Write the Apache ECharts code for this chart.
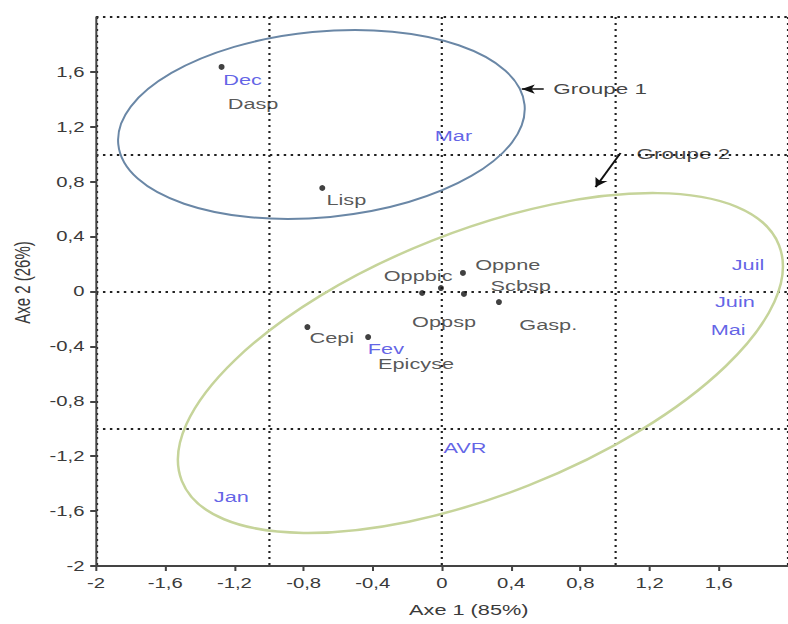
<!DOCTYPE html>
<html>
<head>
<meta charset="utf-8">
<script src="https://cdn.jsdelivr.net/npm/echarts@6/dist/echarts.min.js"></script>
<style>
  html, body { margin: 0; padding: 0; background: #fff; overflow: hidden; }
  /* the plot is laid out narrow and widened horizontally, giving the wide lettering of the original figure */
  #chart { width: 544px; height: 624px; transform: scaleX(1.448529); transform-origin: 0 0; }
</style>
</head>
<body>
<div id="chart"></div>
<script>
const STRETCH = 788 / 544;

// axes (factor map of the PCA)
const axisMin = -2;
const axisMax = 2;
const tickStep = 0.4;
const refStep = 1;
const xTitle = 'Axe 1 (85%)';
const yTitle = 'Axe 2 (26%)';

// projected observations drawn as dots
const dotX = [-1.274, -0.692, -0.115, -0.006, 0.127, 0.121, 0.329, -0.778, -0.427];
const dotY = [1.636, 0.754, -0.011, 0.025, -0.018, 0.135, -0.077, -0.259, -0.332];

// species (variables)
const speciesNames = ['Dasp', 'Lisp', 'Oppbic', 'Oppne', 'Scbsp', 'Oppsp', 'Gasp.', 'Cepi', 'Epicyse'];
const speciesX = [-1.092, -0.553, -0.138, 0.380, 0.455, 0.012, 0.614, -0.637, -0.150];
const speciesY = [1.366, 0.667, 0.113, 0.193, 0.040, -0.220, -0.240, -0.340, -0.528];

// months
const monthNames = ['Dec', 'Mar', 'Juil', 'Juin', 'Mai', 'Fev', 'AVR', 'Jan'];
const monthX = [-1.153, 0.066, 1.769, 1.693, 1.654, -0.324, 0.133, -1.218];
const monthY = [1.541, 1.133, 0.193, -0.074, -0.281, -0.414, -1.139, -1.497];

// groups: centre, half-axes (x units, y units), tilt in degrees
const groupNames = ['Groupe 1', 'Groupe 2'];
const groupCx = [-0.697, 0.222];
const groupCy = [1.217, -0.521];
const groupRx = [1.18, 1.856];
const groupRy = [0.677, 0.959];
const groupTilt = [5.5, 21.5];
const groupColors = ['#6a87a6', '#c6d49a'];

// group captions and their arrows
const captionX = [0.914, 1.395];
const captionY = [1.475, 1.002];
const arrowFrom = [[0.588, 1.475], [1.032, 1.009]];
const arrowTo = [[0.461, 1.475], [0.888, 0.761]];

const FONT = '"Liberation Sans", Arial, sans-serif';
const fmt = v => String(Math.round(v * 10) / 10).replace('.', ',');

const zip = (xs, ys, names) => xs.map((x, i) => names ? { name: names[i], value: [x, ys[i]] } : [x, ys[i]]);

const chart = echarts.init(document.getElementById('chart'), null, { renderer: 'svg' });

chart.setOption({
  backgroundColor: '#fff',
  animation: false,
  grid: { left: 66.27, top: 17, width: 479.1, height: 549, containLabel: false },
  xAxis: [
    {
      type: 'value', min: axisMin, max: axisMax, interval: tickStep,
      name: xTitle, nameLocation: 'middle', nameGap: 36,
      nameTextStyle: { fontFamily: FONT, fontSize: 15, color: '#3a3a3a', padding: [0, 0, 0, 37] },
      axisLine: { onZero: false, lineStyle: { color: '#444', width: 2 } },
      axisTick: { show: true, length: 5, lineStyle: { color: '#444', width: 1.4 } },
      axisLabel: { showMaxLabel: false, margin: 10, fontFamily: FONT, fontSize: 14, color: '#3a3a3a', formatter: fmt },
      splitLine: { show: false }
    },
    {
      type: 'value', min: axisMin, max: axisMax, interval: refStep,
      axisLine: { show: false }, axisTick: { show: false }, axisLabel: { show: false },
      splitLine: { show: true, lineStyle: { color: '#222', width: 1.5, type: [2, 4] } }
    }
  ],
  yAxis: [
    {
      type: 'value', min: axisMin, max: axisMax, interval: tickStep,
      name: yTitle, nameLocation: 'middle', nameGap: 40,
      nameTextStyle: { fontFamily: FONT, fontSize: 15, color: '#3a3a3a', padding: [0, 0, 0, 18] },
      axisLine: { onZero: false, lineStyle: { color: '#444', width: 1.4 } },
      axisTick: { show: true, length: 4, lineStyle: { color: '#444', width: 2 } },
      axisLabel: { showMaxLabel: false, margin: 8, fontFamily: FONT, fontSize: 14, color: '#3a3a3a', formatter: fmt },
      splitLine: { show: false }
    },
    {
      type: 'value', min: axisMin, max: axisMax, interval: refStep,
      axisLine: { show: false }, axisTick: { show: false }, axisLabel: { show: false },
      splitLine: { show: true, lineStyle: { color: '#222', width: 2.2, type: [1.7, 3.1] } }
    }
  ],
  series: [
    {
      name: 'groups',
      type: 'custom',
      silent: true,
      data: groupNames.map((n, i) => ({ name: n, value: [groupCx[i], groupCy[i], groupRx[i], groupRy[i], groupTilt[i], i] })),
      renderItem: (params, api) => {
        const c = api.coord([api.value(0), api.value(1)]);
        const ux = api.size([1, 0])[0] * STRETCH;
        const uy = api.size([0, 1])[1];
        const idx = api.value(5);
        return {
          type: 'group',
          x: c[0], y: c[1], scaleX: 1 / STRETCH,
          children: [{
            type: 'ellipse',
            rotation: api.value(4) * Math.PI / 180,
            shape: { cx: 0, cy: 0, rx: api.value(2) * ux, ry: api.value(3) * uy },
            style: { fill: 'none', stroke: groupColors[idx], lineWidth: idx === 0 ? 2 : 2.5 }
          }]
        };
      },
      z: 1
    },
    {
      name: 'arrows',
      type: 'line',
      data: [],
      silent: true,
      markLine: {
        silent: true,
        symbol: ['none', 'arrow'],
        symbolSize: [7, 9],
        label: { show: false },
        lineStyle: { color: '#111', width: 1.5, type: 'solid' },
        data: arrowFrom.map((p, i) => [{ coord: p }, { coord: arrowTo[i] }])
      },
      z: 2
    },
    {
      name: 'dots',
      type: 'scatter',
      data: zip(dotX, dotY),
      symbol: 'circle',
      symbolSize: [6 / STRETCH, 6],
      itemStyle: { color: '#111' },
      silent: true,
      z: 4
    },
    {
      name: 'species',
      type: 'scatter',
      data: zip(speciesX, speciesY, speciesNames),
      symbolSize: 0,
      silent: true,
      label: { show: true, position: 'inside', formatter: '{b}', fontFamily: FONT, fontSize: 15, color: '#2b2b2b' },
      z: 3
    },
    {
      name: 'months',
      type: 'scatter',
      data: zip(monthX, monthY, monthNames),
      symbolSize: 0,
      silent: true,
      label: { show: true, position: 'inside', formatter: '{b}', fontFamily: FONT, fontSize: 15, color: '#3b3be0' },
      z: 3
    },
    {
      name: 'captions',
      type: 'scatter',
      data: zip(captionX, captionY, groupNames),
      symbolSize: 0,
      silent: true,
      label: { show: true, position: 'inside', formatter: '{b}', fontFamily: FONT, fontSize: 15.5, color: '#111' },
      z: 3
    }
  ]
});
</script>
</body>
</html>
